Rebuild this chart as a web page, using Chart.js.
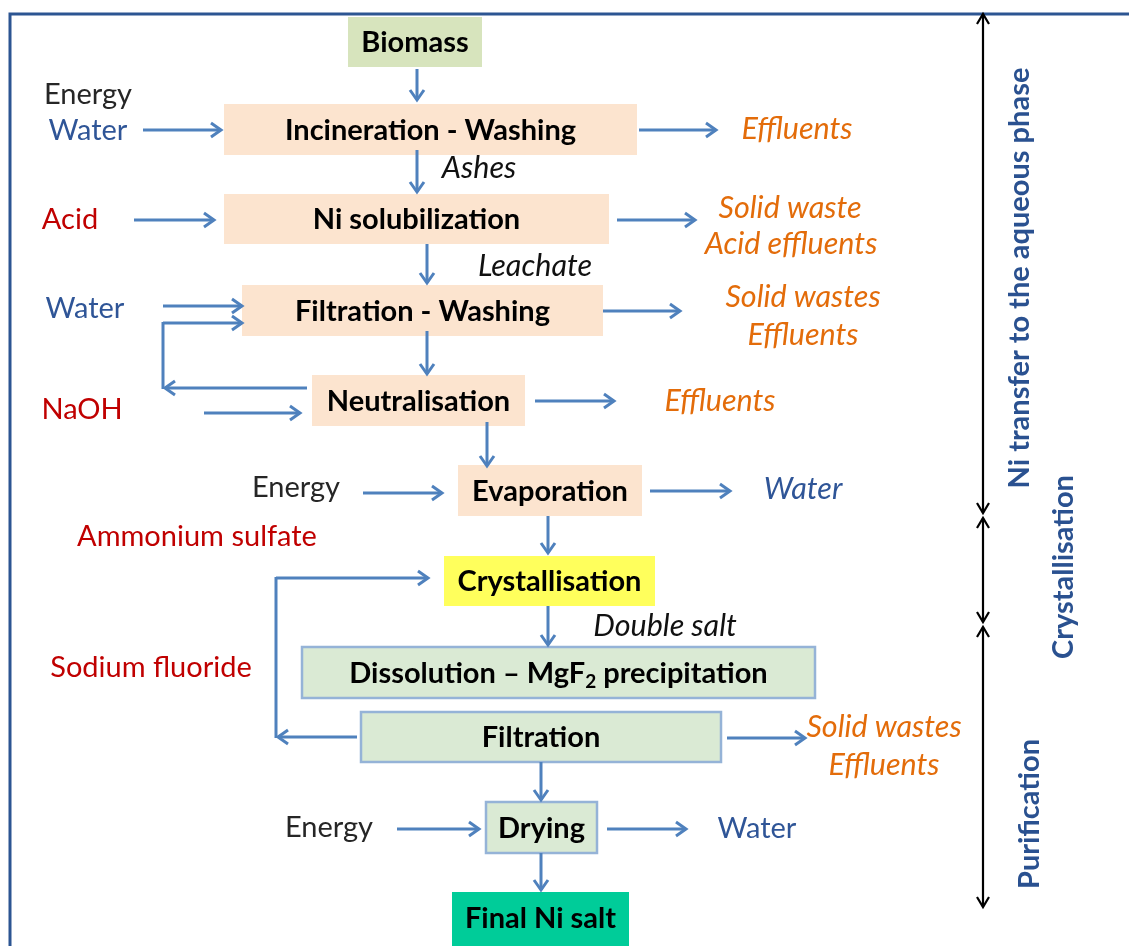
<!DOCTYPE html>
<html><head><meta charset="utf-8">
<script src="https://cdn.jsdelivr.net/npm/chart.js@4/dist/chart.umd.min.js"></script>
<style>html,body{margin:0;padding:0;background:#fff}#wrap{width:1129px;height:946px}</style>
</head><body><div id="wrap"><canvas id="c" width="1129" height="946"></canvas></div>
<script>
// ---- diagram content ----
const stepLabels = ['Biomass','Incineration - Washing','Ni solubilization','Filtration - Washing','Neutralisation','Evaporation','Crystallisation','Dissolution – MgF|2| precipitation','Filtration','Drying','Final Ni salt'];
const stepBoxes = [[348,17,482,67],[224,104,637,155],[224,194,609,244],[242,285,603,336],[312,375,525,426],[458,465,642,516],[444,556,655,606],[302,647,815,698],[361,712,721,762],[486,802,597,853],[452,892,629,946]];
const stepKinds = ['feed','pre','pre','pre','pre','pre','cry','pur','pur','pur','fin'];

const flowLabels = ['Energy','Water','Effluents','Ashes','Acid','Solid waste','Acid effluents','Leachate','Water','Solid wastes','Effluents','NaOH','Effluents','Energy','Water','Ammonium sulfate','Double salt','Sodium fluoride','Solid wastes','Effluents','Energy','Water'];
const flowAnchors = [[88,95],[88,131],[797,129],[479,168],[70,220],[790,208],[791,244],[535,266],[85,309],[803,297],[803,335],[82,410],[720,401],[296,488],[803,489],[197,537],[665,626],[151,668],[884,727],[884,765],[329,828],[757,829]];
const flowKinds = ['energy','water','out','inter','reag','out','out','inter','water','out','out','reag','out','energy','outw','reag','inter','reag','out','out','energy','water'];

const arrowPaths = [
  [[417,69],[417,100]],[[143,130],[221,130]],[[639,130],[716,130]],[[417,150],[417,192]],
  [[134,220],[214,220]],[[617,220],[695,220]],[[427,244],[427,283]],
  [[163,306],[242,306]],[[163,323],[242,323]],[[307,388],[165,388]],[[603,311],[680,311]],
  [[427,331],[427,374]],[[204,413],[300,413]],[[535,401],[614,401]],[[487,422],[487,466]],
  [[363,493],[442,493]],[[650,491],[730,491]],[[548,516],[548,553]],
  [[276,578],[428,578]],[[357,737],[278,737]],[[548,606],[548,645]],[[727,738],[805,738]],
  [[541,762],[541,800]],[[397,829],[479,829]],[[607,829],[686,829]],[[541,853],[541,890]]
];
const linkPaths = [[[163,389],[163,322]],[[276,738],[276,577]]];

const phaseLabels = ['Ni transfer to the aqueous phase','Crystallisation','Purification'];
const phaseSpans = [[14,513],[518,622],[627,907]];
const phaseTextPos = [[1020,278],[1064,567],[1030,814]];

// ---- styles ----
const FONT = 'Lato, "Open Sans", "Noto Sans", sans-serif';
const boxFill = {feed:'#D7E4BD',pre:'#FCE4CF',cry:'#FFFF5C',pur:'#DAEAD4',fin:'#00CC99'};
const flowStyle = {
  energy:{c:'#262626',f:'normal',s:29}, water:{c:'#2F5597',f:'normal',s:29}, out:{c:'#E36C0A',f:'italic',s:30.5},
  inter:{c:'#111111',f:'italic',s:30.5}, reag:{c:'#C00000',f:'normal',s:29}, outw:{c:'#2F5597',f:'italic',s:30.5}
};

const diagramPlugin = {
  id:'diagram',
  afterDraw(chart){
    const ctx = chart.ctx, xs = chart.scales.x, ys = chart.scales.y;
    const X = v => xs.getPixelForValue(v), Y = v => ys.getPixelForValue(v);
    ctx.save();
    // frame
    ctx.strokeStyle = '#2C5592'; ctx.lineWidth = 3;
    ctx.beginPath(); ctx.moveTo(X(1129),Y(14)); ctx.lineTo(X(10),Y(14)); ctx.lineTo(X(10),Y(946)); ctx.stroke();

    // boxes
    stepBoxes.forEach((b,i)=>{
      const k = stepKinds[i];
      const x1=X(b[0]),y1=Y(b[1]),x2=X(b[2]),y2=Y(b[3]);
      ctx.fillStyle = boxFill[k];
      ctx.fillRect(x1,y1,x2-x1,y2-y1);
      if (k==='pur'){ ctx.strokeStyle='#95B3D7'; ctx.lineWidth=2.5; ctx.strokeRect(x1,y1,x2-x1,y2-y1); }
      const cx=(x1+x2)/2, cy=(Math.min(y2,Y(944))+y1)/2+1;
      const parts = stepLabels[i].split('|');
      ctx.fillStyle='#000'; ctx.textBaseline='middle';
      const big = 'bold 29px '+FONT, small='bold 19px '+FONT;
      if (parts.length===1){
        ctx.font=big; ctx.textAlign='center'; ctx.fillText(parts[0],cx,cy);
      } else {
        ctx.font=big; const w0=ctx.measureText(parts[0]).width, w2=ctx.measureText(parts[2]).width;
        ctx.font=small; const w1=ctx.measureText(parts[1]).width;
        let x=cx-(w0+w1+w2)/2; ctx.textAlign='left';
        ctx.font=big; ctx.fillText(parts[0],x,cy); x+=w0;
        ctx.font=small; ctx.fillText(parts[1],x,cy+8); x+=w1;
        ctx.font=big; ctx.fillText(parts[2],x,cy);
      }
    });

    // blue arrows
    const head=(x1,y1,x2,y2,L,H)=>{
      const a=Math.atan2(y2-y1,x2-x1), ca=Math.cos(a), sa=Math.sin(a);
      ctx.beginPath();
      ctx.moveTo(x2-L*ca-H*sa, y2-L*sa+H*ca);
      ctx.lineTo(x2,y2);
      ctx.lineTo(x2-L*ca+H*sa, y2-L*sa-H*ca);
      ctx.stroke();
    };
    ctx.strokeStyle='#4F81BD'; ctx.lineWidth=3; ctx.lineCap='butt'; ctx.lineJoin='miter';
    linkPaths.forEach(p=>{ ctx.beginPath(); ctx.moveTo(X(p[0][0]),Y(p[0][1])); ctx.lineTo(X(p[1][0]),Y(p[1][1])); ctx.stroke(); });
    arrowPaths.forEach(p=>{
      const x1=X(p[0][0]),y1=Y(p[0][1]),x2=X(p[1][0]),y2=Y(p[1][1]);
      ctx.beginPath(); ctx.moveTo(x1,y1); ctx.lineTo(x2,y2); ctx.stroke();
      head(x1,y1,x2,y2,10,7);
    });

    // flow labels
    ctx.textAlign='center'; ctx.textBaseline='middle';
    flowLabels.forEach((t,i)=>{
      const s=flowStyle[flowKinds[i]];
      ctx.font=s.f+' '+s.s+'px '+FONT; ctx.fillStyle=s.c;
      ctx.fillText(t,X(flowAnchors[i][0]),Y(flowAnchors[i][1]));
    });

    // phase brackets
    ctx.strokeStyle='#000'; ctx.lineWidth=2.2;
    phaseSpans.forEach(s=>{
      const x=X(983), a=Y(s[0]), b=Y(s[1]);
      ctx.beginPath(); ctx.moveTo(x,a); ctx.lineTo(x,b); ctx.stroke();
      head(x,b,x,a,10,6); head(x,a,x,b,10,6);
    });
    ctx.fillStyle='#2A5190'; ctx.font='bold 29px '+FONT;
    phaseLabels.forEach((t,i)=>{
      ctx.save(); ctx.translate(X(phaseTextPos[i][0]),Y(phaseTextPos[i][1])); ctx.rotate(-Math.PI/2);
      ctx.textAlign='center'; ctx.textBaseline='middle'; ctx.fillText(t,0,0); ctx.restore();
    });
    ctx.restore();
  }
};

new Chart(document.getElementById('c'),{
  type:'scatter',
  data:{datasets:[{data:stepBoxes.map(b=>({x:(b[0]+b[2])/2,y:(b[1]+b[3])/2})),pointRadius:0}]},
  options:{
    responsive:false, animation:false, events:[],
    layout:{padding:0},
    scales:{x:{type:'linear',min:0,max:1129,display:false},y:{type:'linear',min:0,max:946,reverse:true,display:false}},
    plugins:{legend:{display:false},tooltip:{enabled:false}}
  },
  plugins:[diagramPlugin]
});
</script></body></html>
